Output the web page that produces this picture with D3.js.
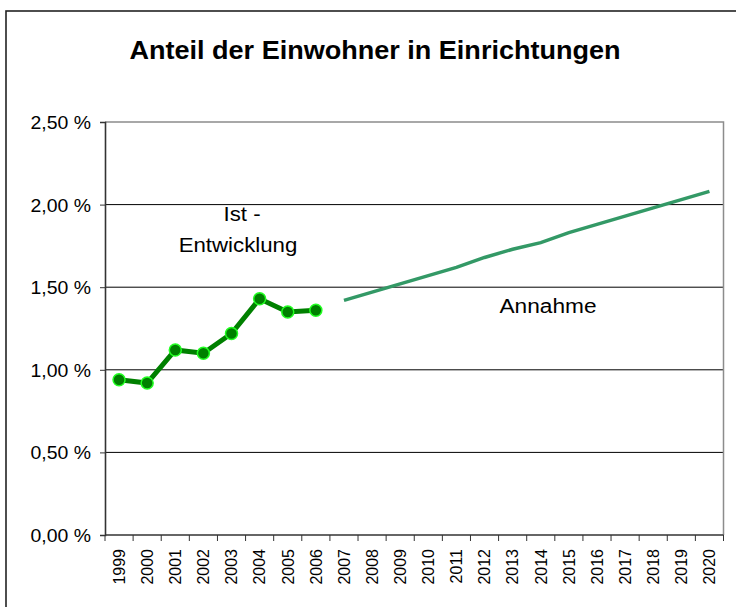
<!DOCTYPE html>
<html>
<head>
<meta charset="utf-8">
<script src="https://cdn.jsdelivr.net/npm/d3@7"></script>
<style>
  body { margin: 0; background: #fff; }
  text { font-family: "Liberation Sans", Arial, sans-serif; fill: #000; }
</style>
</head>
<body>
<script>
// categories (years) and series values (in %)
const years = ['1999', '2000', '2001', '2002', '2003', '2004', '2005', '2006', '2007', '2008', '2009',
               '2010', '2011', '2012', '2013', '2014', '2015', '2016', '2017', '2018', '2019', '2020']
const istYears = ['1999', '2000', '2001', '2002', '2003', '2004', '2005', '2006']
const istValues = [0.94, 0.92, 1.12, 1.10, 1.22, 1.43, 1.35, 1.36]
const annahmeYears = ['2007', '2008', '2009', '2010', '2011', '2012', '2013', '2014', '2015', '2016', '2017', '2018', '2019', '2020']
const annahmeValues = [1.42, 1.47, 1.52, 1.57, 1.62, 1.68, 1.73, 1.77, 1.83, 1.88, 1.93, 1.98, 2.03, 2.08]
const yTicks = [0, 0.5, 1.0, 1.5, 2.0, 2.5]

const title = 'Anteil der Einwohner in Einrichtungen'

let width = 736,
    height = 607
const plot = {left: 105, right: 723.5, top: 122, bottom: 535}

let svg = d3.select('body').append('svg')
  .attr('width', width)
  .attr('height', height)

// outer chart frame (runs off the right and bottom edges)
svg.append('rect')
  .attr('x', 6).attr('y', 11)
  .attr('width', 800).attr('height', 700)
  .style('fill', '#fff')
  .style('stroke', '#222')
  .style('stroke-width', 1.6)

let x = d3.scaleBand().domain(years).range([plot.left, plot.right])
let y = d3.scaleLinear().domain([0, 2.5]).range([plot.bottom, plot.top])

const de = d3.formatLocale({decimal: ',', thousands: '.', grouping: [3], currency: ['', ' €']})
const fmt = v => de.format('.2f')(v) + ' %'

// gridlines
svg.append('g').selectAll('line').data(yTicks.filter(d => d > 0 && d < 2.5)).enter().append('line')
  .attr('x1', plot.left).attr('x2', plot.right)
  .attr('y1', d => y(d)).attr('y2', d => y(d))
  .style('stroke', '#000').style('stroke-width', 1)

// plot area border (top and right are grey)
svg.append('path')
  .attr('d', `M${plot.left},${plot.top}H${plot.right}V${plot.bottom}`)
  .style('fill', 'none').style('stroke', '#8c8c8c').style('stroke-width', 1.5)

// y axis
let yAxis = svg.append('g')
  .attr('transform', `translate(${plot.left},0)`)
  .call(d3.axisLeft(y).tickValues(yTicks).tickSize(5).tickFormat(fmt))
yAxis.select('.domain').style('stroke', '#333').style('stroke-width', 1.6)
yAxis.selectAll('.tick line').style('stroke', '#333')
yAxis.selectAll('.tick text')
  .attr('x', 0).attr('dy', null)
  .style('font-size', '18px')
  .attr('text-anchor', 'end')
  .attr('font-family', null)
  .attr('transform', `translate(-14,6.5) scale(1.08,1)`)

// x axis: line, ticks between categories, rotated year labels
let xAxis = svg.append('g').attr('transform', `translate(0,${plot.bottom})`)
xAxis.append('line')
  .attr('x1', plot.left).attr('x2', plot.right)
  .style('stroke', '#333').style('stroke-width', 1.6)
xAxis.selectAll('.xtick').data(years.concat(['end'])).enter().append('line')
  .attr('class', 'xtick')
  .attr('x1', d => d === 'end' ? plot.right : x(d))
  .attr('x2', d => d === 'end' ? plot.right : x(d))
  .attr('y1', 0).attr('y2', 6)
  .style('stroke', '#333').style('stroke-width', 1)
xAxis.selectAll('.xlabel').data(years).enter().append('text')
  .attr('class', 'xlabel')
  .attr('transform', d => `translate(${x(d) + x.bandwidth() / 2},14) rotate(-90)`)
  .attr('dy', '0.36em')
  .attr('text-anchor', 'end')
  .style('font-size', '16px')
  .text(d => d)

const cx = d => x(d) + x.bandwidth() / 2

// forecast line
const annahme = annahmeYears.map((d, i) => ({year: d, value: annahmeValues[i]}))
svg.append('path')
  .datum(annahme)
  .attr('d', d3.line().x(d => cx(d.year)).y(d => y(d.value)))
  .style('fill', 'none')
  .style('stroke', '#339966')
  .style('stroke-width', 3.5)

// actual line with markers
const ist = istYears.map((d, i) => ({year: d, value: istValues[i]}))
svg.append('path')
  .datum(ist)
  .attr('d', d3.line().x(d => cx(d.year)).y(d => y(d.value)))
  .style('fill', 'none')
  .style('stroke', '#008000')
  .style('stroke-width', 5)
svg.append('g').selectAll('circle').data(ist).enter().append('circle')
  .attr('cx', d => cx(d.year))
  .attr('cy', d => y(d.value))
  .attr('r', 6)
  .style('fill', '#008000')
  .style('stroke', '#22ff22')
  .style('stroke-width', 1.5)

// texts
let addText = (t, px, py, size, sx, weight) => svg.append('text')
  .attr('transform', `translate(${px},${py}) scale(${sx},1)`)
  .attr('text-anchor', 'middle')
  .style('font-size', size + 'px')
  .style('font-weight', weight || 'normal')
  .text(t)

addText(title, 375, 59, 26, 1.04, 'bold')
addText('Ist -', 242, 221, 21, 1.06)
addText('Entwicklung', 238, 252, 21, 1.06)
addText('Annahme', 548, 313, 21, 1.08)
</script>
</body>
</html>
